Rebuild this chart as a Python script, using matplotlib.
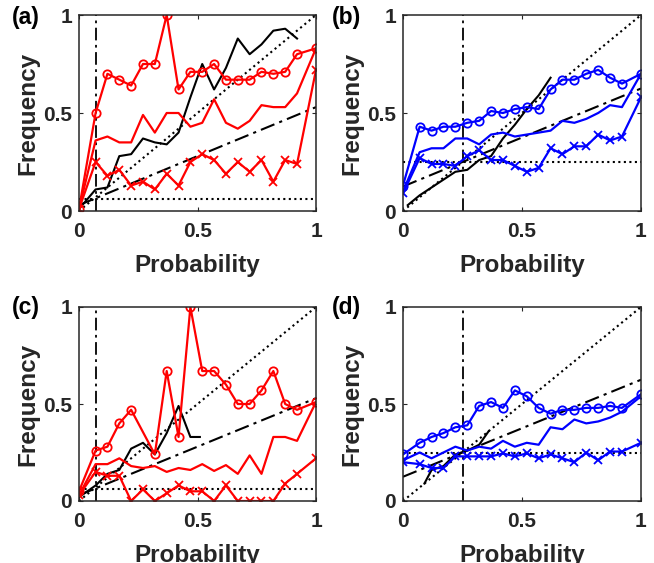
import numpy as np
import matplotlib
matplotlib.use('Agg')
import matplotlib.pyplot as plt

plt.rcParams['font.family'] = ['Liberation Sans', 'DejaVu Sans']
plt.rcParams['font.weight'] = 'bold'

# probability bins (x positions of the reliability points)
prob = [0, 0.07, 0.12, 0.17, 0.22, 0.27, 0.32, 0.37, 0.42, 0.47,
        0.52, 0.57, 0.62, 0.67, 0.72, 0.77, 0.82, 0.87, 0.92, 1.0]

# panel (a)
a_circ = [0.01, 0.50, 0.70, 0.67, 0.64, 0.75, 0.75, 1.00, 0.62, 0.71,
          0.71, 0.75, 0.67, 0.67, 0.67, 0.71, 0.70, 0.71, 0.80, 0.83]
a_line = [0.01, 0.36, 0.38, 0.35, 0.35, 0.49, 0.40, 0.50, 0.50, 0.43,
          0.45, 0.57, 0.45, 0.42, 0.46, 0.54, 0.53, 0.53, 0.60, 0.83]
a_cross = [0.01, 0.25, 0.18, 0.21, 0.13, 0.15, 0.11, 0.19, 0.13, 0.25,
           0.29, 0.26, 0.19, 0.25, 0.20, 0.26, 0.15, 0.26, 0.24, 0.72]
a_black_x = prob[:19]
a_black = [0.01, 0.11, 0.12, 0.28, 0.29, 0.37, 0.35, 0.34, 0.40, 0.58,
           0.75, 0.62, 0.73, 0.88, 0.80, 0.85, 0.92, 0.93, 0.88]
a_clim_x = 0.07
a_clim_y = 0.06

# panel (b)
b_circ = [0.13, 0.43, 0.41, 0.43, 0.43, 0.45, 0.46, 0.51, 0.50, 0.52,
          0.53, 0.52, 0.62, 0.67, 0.67, 0.70, 0.72, 0.68, 0.65, 0.70]
b_line = [0.10, 0.30, 0.32, 0.32, 0.37, 0.37, 0.34, 0.39, 0.40, 0.38,
          0.39, 0.40, 0.41, 0.46, 0.45, 0.47, 0.50, 0.54, 0.53, 0.70]
b_cross = [0.09, 0.27, 0.24, 0.24, 0.23, 0.28, 0.31, 0.26, 0.26, 0.23,
           0.20, 0.22, 0.32, 0.29, 0.33, 0.33, 0.39, 0.36, 0.38, 0.58]
b_black_x = [0.02, 0.07, 0.12, 0.17, 0.22, 0.27, 0.32, 0.37, 0.42, 0.47, 0.52, 0.57, 0.62]
b_black = [0.03, 0.08, 0.12, 0.16, 0.20, 0.21, 0.26, 0.28, 0.37, 0.44, 0.52, 0.59, 0.68]
b_clim_x = 0.25
b_clim_y = 0.25

# panel (c)  (no circle point in the 0.27 bin)
c_circ = [0.05, 0.26, 0.28, 0.40, 0.47, np.nan, 0.24, 0.67, 0.33, 1.00,
          0.67, 0.67, 0.60, 0.50, 0.50, 0.57, 0.67, 0.50, 0.47, 0.51]
c_line = [0.03, 0.19, 0.19, 0.22, 0.18, 0.17, 0.18, 0.15, 0.17, 0.16,
          0.19, 0.155, 0.185, 0.14, 0.235, 0.14, 0.33, 0.33, 0.31, 0.51]
c_cross = [0.03, 0.15, 0.13, 0.13, 0.0, 0.06, 0.0, 0.04, 0.08, 0.05,
           0.05, 0.0, 0.08, 0.0, 0.0, 0.0, 0.0, 0.09, 0.14, 0.22]
c_black_x = [0, 0.07, 0.12, 0.17, 0.22, 0.27, 0.32, 0.37, 0.42, 0.47, 0.51]
c_black = [0.02, 0.08, 0.14, 0.16, 0.27, 0.30, 0.24, 0.35, 0.49, 0.33, 0.33]
c_clim_x = 0.07
c_clim_y = 0.06

# panel (d)
d_circ = [0.24, 0.30, 0.33, 0.35, 0.38, 0.39, 0.49, 0.51, 0.48, 0.57,
          0.54, 0.48, 0.45, 0.47, 0.47, 0.48, 0.48, 0.49, 0.48, 0.55]
d_line = [0.21, 0.25, 0.22, 0.25, 0.28, 0.26, 0.28, 0.27, 0.31, 0.28,
          0.30, 0.29, 0.38, 0.37, 0.42, 0.40, 0.41, 0.43, 0.46, 0.54]
d_cross = [0.20, 0.19, 0.17, 0.17, 0.23, 0.23, 0.23, 0.23, 0.245, 0.23,
           0.245, 0.22, 0.24, 0.22, 0.20, 0.25, 0.21, 0.255, 0.255, 0.30]
d_black_x = [0.09, 0.12, 0.17, 0.22, 0.27, 0.32, 0.36]
d_black = [0.09, 0.16, 0.18, 0.24, 0.26, 0.29, 0.36]
d_clim_x = 0.25
d_clim_y = 0.25

panels = [
    ('(a)', 'red', a_circ, a_line, a_cross, a_black_x, a_black, a_clim_x, a_clim_y),
    ('(b)', 'blue', b_circ, b_line, b_cross, b_black_x, b_black, b_clim_x, b_clim_y),
    ('(c)', 'red', c_circ, c_line, c_cross, c_black_x, c_black, c_clim_x, c_clim_y),
    ('(d)', 'blue', d_circ, d_line, d_cross, d_black_x, d_black, d_clim_x, d_clim_y),
]

W, H = 654, 563
fig = plt.figure(figsize=(W / 100, H / 100), dpi=100)

# axes rectangles in pixels: left, top, right, bottom
boxes = [(79, 15, 316, 211), (403, 15, 641, 211),
         (79, 307, 316, 501), (403, 307, 641, 501)]
label_pos = [(12, 6), (332, 6), (12, 296), (332, 296)]

axcol = '#262626'
dashdot = (0, (7, 2.5, 1.5, 2.5))

for (name, col, circ, line, cross, bx, by, cx, cy), box, lp in zip(panels, boxes, label_pos):
    l, t, r, b = box
    ax = fig.add_axes([l / W, 1 - b / H, (r - l) / W, (b - t) / H])

    xs = np.array(prob)
    ax.plot([0, 1], [0, 1], ':', color='k', lw=1.5)
    ax.plot([0, 1], [cy, cy], ':', color='k', lw=1.5)
    ax.plot([cx, cx], [0, 1], color='k', lw=1.3, linestyle=dashdot)
    ax.plot([0, 1], [cy / 2, (1 + cy) / 2], color='k', lw=1.5, linestyle=dashdot)

    ax.plot(bx, by, '-', color='k', lw=1.5)

    circ = np.array(circ)
    ok = ~np.isnan(circ)
    ax.plot(xs[ok], circ[ok], '-o', color=col, lw=1.6, ms=6, mfc='none', mew=1.3)
    ax.plot(xs, line, '-', color=col, lw=1.6)
    ax.plot(xs, cross, '-x', color=col, lw=1.6, ms=5.5, mew=1.3)

    ax.set_xlim(0, 1)
    ax.set_ylim(0, 1)
    ax.set_xticks([0, 0.5, 1])
    ax.set_yticks([0, 0.5, 1])
    ax.set_xticklabels(['0', '0.5', '1'])
    ax.set_yticklabels(['0', '0.5', '1'])
    ax.tick_params(direction='in', top=True, right=True, length=3, width=0.8,
                   labelsize=15, colors=axcol)
    ax.tick_params(axis='x', pad=8)
    ax.tick_params(axis='y', pad=5)
    for lab in ax.get_xticklabels() + ax.get_yticklabels():
        lab.set_fontweight('bold')
    for s in ax.spines.values():
        s.set_color(axcol)
        s.set_linewidth(1.1)
    ax.set_xlabel('Probability', fontsize=17.5, fontweight='bold', color=axcol, labelpad=9)
    ax.set_ylabel('Frequency', fontsize=17.5, fontweight='bold', color=axcol, labelpad=3)

    fig.text(lp[0] / W, 1 - lp[1] / H, name, fontsize=16.5, fontweight='bold',
             ha='left', va='top', color='k')

fig.savefig('out.png', dpi=100)
